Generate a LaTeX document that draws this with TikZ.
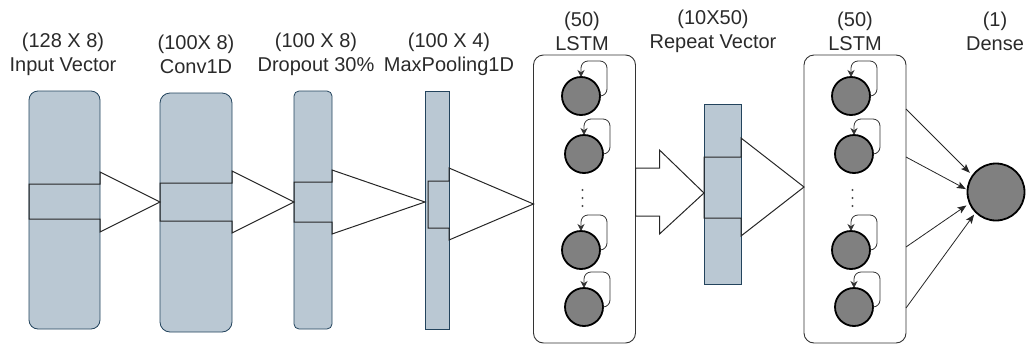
\documentclass[tikz,border=0pt]{standalone}
\usepackage{fontspec}
\setmainfont{Liberation Sans}
\usetikzlibrary{arrows.meta,calc}
\definecolor{boxfill}{HTML}{BAC8D3}
\definecolor{boxline}{HTML}{23445D}
\definecolor{cellfill}{HTML}{808080}
\definecolor{txt}{HTML}{2A2A2A}
\begin{document}
\begin{tikzpicture}[x=1pt,y=-1pt,
  layer/.style={draw=boxline,fill=boxfill,line width=0.8pt,inner sep=0pt,outer sep=0pt},
  lstmbox/.style={draw=black!80,fill=white,line width=0.9pt,rounded corners=10pt,inner sep=0pt,outer sep=0pt,minimum width=102pt,minimum height=288pt},
  cell/.style={circle,draw=black,line width=1.8pt,fill=cellfill,minimum size=38pt,inner sep=0pt,outer sep=0pt},
  selfloop/.style={draw=black!80,line width=0.8pt,rounded corners=7pt,-{Stealth[length=7pt,width=7pt]}},
  blockarrow/.style={draw=black!85,line width=1pt,line join=miter},
  conn/.style={draw=black!85,line width=0.8pt,-{Stealth[length=9pt,width=7pt,inset=2pt]}},
  lbl/.style={text=txt,align=center,font=\fontsize{20}{24}\selectfont,inner sep=0pt}]
\useasboundingbox (0,0) rectangle (1026,346);

% layer boxes
\node[layer,rounded corners=9pt,minimum width=71pt,minimum height=238pt] (inp) at (64.5,210) {};
\node[layer,rounded corners=10pt,minimum width=72pt,minimum height=239pt] (conv) at (196,212.5) {};
\node[layer,rounded corners=5pt,minimum width=38pt,minimum height=238pt] (drop) at (313,210) {};
\node[layer,minimum width=24pt,minimum height=238pt] (pool) at (437,210) {};
\node[lstmbox] (lstmA) at (584.5,199) {};
\node[layer,minimum width=37pt,minimum height=180pt] (rep) at (722.5,194) {};
\node[lstmbox] (lstmB) at (855,199) {};
\node[cell,minimum size=57pt] (dense) at (996,192) {};

% labels
\node[lbl] (lInp) at (63,54.5) {(128 X 8)\\Input Vector};
\node[lbl] (lConv) at (196,54.5) {(100X 8)\\Conv1D};
\node[lbl] (lDrop) at (316,54.5) {(100 X 8)\\Dropout 30\%};
\node[lbl] (lPool) at (449,54.5) {(100 X 4)\\MaxPooling1D};
\node[lbl] (lLA) at (582,31.5) {(50)\\LSTM};
\node[lbl] (lRep) at (713,31.5) {(10X50)\\Repeat Vector};
\node[lbl] (lLB) at (855,31.5) {(50)\\LSTM};
\node[lbl] (lDen) at (995,31.5) {(1)\\Dense};

% block arrows
\draw[blockarrow] (inp.west |- 0,184) -- (inp.east |- 0,184) -- (inp.east |- 0,172) -- (conv.west |- 0,202)
  -- (inp.east |- 0,232) -- (inp.east |- 0,219) -- (inp.west |- 0,219) -- cycle;
\draw[blockarrow] (conv.west |- 0,183) -- (conv.east |- 0,183) -- (conv.east |- 0,171) -- (drop.west |- 0,202)
  -- (conv.east |- 0,233) -- (conv.east |- 0,221) -- (conv.west |- 0,221) -- cycle;
\draw[blockarrow] (drop.west |- 0,182) -- (drop.east |- 0,182) -- (drop.east |- 0,170) -- (pool.west |- 0,202)
  -- (drop.east |- 0,234) -- (drop.east |- 0,222) -- (drop.west |- 0,222) -- cycle;
\draw[blockarrow] ([xshift=3pt]pool.west |- 0,181) -- (pool.east |- 0,181) -- (pool.east |- 0,168) -- (lstmA.west |- 0,204)
  -- (pool.east |- 0,240) -- (pool.east |- 0,228) -- ([xshift=3pt]pool.west |- 0,228) -- cycle;
\draw[blockarrow] (lstmA.east |- 0,168) -- ([xshift=24pt]lstmA.east |- 0,168) -- ([xshift=24pt]lstmA.east |- 0,150) -- (rep.west |- 0,193)
  -- ([xshift=24pt]lstmA.east |- 0,234) -- ([xshift=24pt]lstmA.east |- 0,216) -- (lstmA.east |- 0,216) -- cycle;
\draw[blockarrow] (rep.west |- 0,157) -- (rep.east |- 0,157) -- (rep.east |- 0,138) -- (lstmB.west |- 0,187)
  -- (rep.east |- 0,236) -- (rep.east |- 0,218) -- (rep.west |- 0,218) -- cycle;

% LSTM cells
\foreach \n/\dx in {A/0,B/270}{
  \node[cell] (c\n1) at (581+\dx,96) {};
  \node[cell] (c\n2) at (584+\dx,154) {};
  \node[cell] (c\n3) at (581+\dx,250) {};
  \node[cell] (c\n4) at (584+\dx,307) {};
  \foreach \k in {1,2,3,4}{
    \draw[selfloop] (c\n\k.east) -- ++(7,0) |- ($(c\n\k.north)+(0,-16)$) -- (c\n\k.north);
  }
  \foreach \yy in {190,198,206}{
    \fill[black!70] (582.5+\dx,\yy) circle (1.2pt);
  }
}

% connections to dense
\draw[conn,shorten >=4pt] (lstmB.east |- 0,109) -- (dense.145);
\draw[conn,shorten >=2pt] (lstmB.east |- 0,157) -- (dense.176);
\draw[conn,shorten >=4pt] (lstmB.east |- 0,247) -- (dense.203);
\draw[conn,shorten >=3pt] (lstmB.east |- 0,308) -- (dense.225);
\end{tikzpicture}
\end{document}
